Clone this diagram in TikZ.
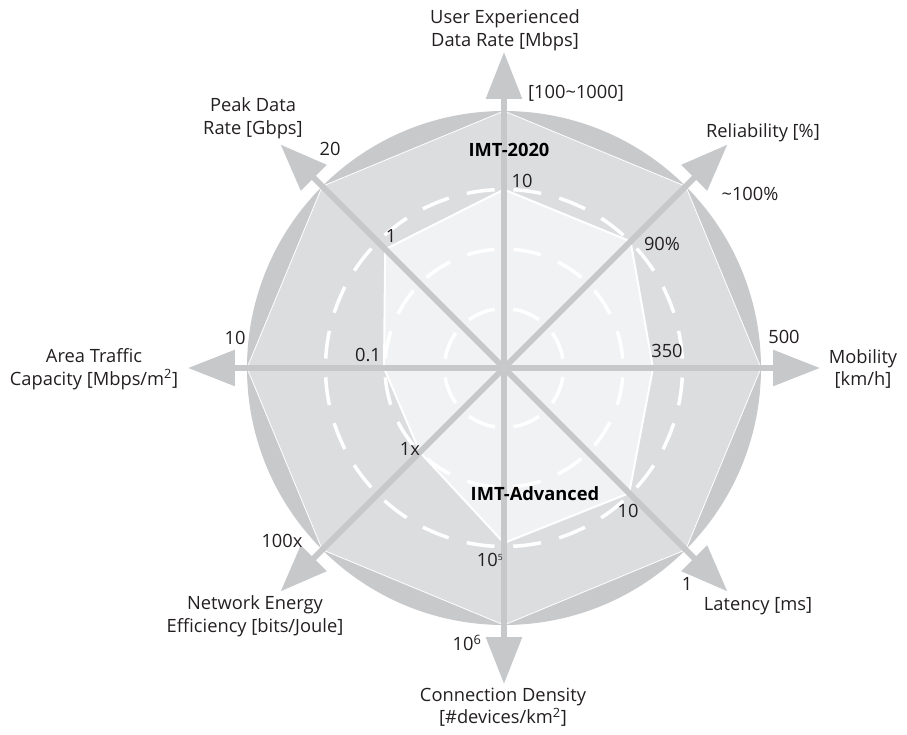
\documentclass[tikz,border=0pt]{standalone}
\usepackage{fontspec}
\setmainfont{Open Sans}
\usetikzlibrary{arrows.meta}
\definecolor{ringgray}{RGB}{200,201,203}
\definecolor{octgray}{RGB}{220,221,223}
\definecolor{innergray}{RGB}{241,242,243}
\definecolor{axisgray}{RGB}{199,200,202}
\definecolor{textgray}{RGB}{35,31,32}

\begin{document}
\begin{tikzpicture}[x=1pt,y=1pt,
  axisarrow/.style={line width=6pt,draw=axisgray,-{Triangle[length=47pt,width=35pt]}},
  lbl/.style={text=textgray,font=\fontsize{18.3}{22.5}\selectfont,align=center,inner sep=0pt},
  tag/.style={lbl,font=\bfseries\fontsize{18.3}{22.5}\selectfont,text=black},
  ring/.style={draw=white,line width=3.5pt,dash pattern=on 28pt off 18.73pt,dash phase=37.36pt}]
  \useasboundingbox (-504,-366) rectangle (403,368);
  \coordinate (o) at (0,0);
  % outer disc, IMT-2020 and IMT-Advanced areas
  \fill[ringgray] (o) circle (257);
  \filldraw[fill=octgray,draw=white,line width=0.8pt] (0:257) -- (45:257) -- (90:257) -- (135:257)
     -- (180:257) -- (225:257) -- (270:257) -- (315:257) -- cycle;
  \filldraw[fill=innergray,draw=white,line width=2pt] (90:178.5) -- (45:179) -- (0:149) -- (-45:177)
     -- (-90:175) -- (-135:119) -- (180:120) -- (135:168) -- cycle;
  \foreach \r in {59.5,119,178.5}
     \draw[ring] (o) circle (\r);
  % axes
  \foreach \a [count=\i] in {90,45,0,-45,-90,-135,180,135}{
     \coordinate (t\i) at (\a:316);
     \draw[axisarrow] (o) -- (t\i);
  }
  % axis names
  \node[lbl] (ued) at (1,338) {User Experienced\\Data Rate [Mbps]};
  \node[lbl] (rel) at (259,235) {Reliability [\%]};
  \node[lbl] (mob) at (359,-1) {Mobility\\{}[km/h]};
  \node[lbl] (lat) at (254,-238) {Latency [ms]};
  \node[lbl] (den) at (-1,-339) {Connection Density\\{}[\#devices/km\textsuperscript{2}]};
  \node[lbl] (nee) at (-249,-248) {Network Energy\\Efficiency [bits/Joule]};
  \node[lbl] (atc) at (-410,-1) {Area Traffic\\Capacity [Mbps/m\textsuperscript{2}]};
  \node[lbl] (pdr) at (-251,250) {Peak Data\\Rate [Gbps]};
  % IMT-2020 values
  \node[lbl] (v1) at (72,275) {[100\textasciitilde1000]};
  \node[lbl] (v2) at (246,174) {\textasciitilde100\%};
  \node[lbl] (v3) at (280,31) {500};
  \node[lbl] (v4) at (183,-216) {1};
  \node[lbl] (v5) at (-37,-275) {10\textsuperscript{6}};
  \node[lbl] (v6) at (-222,-173) {100x};
  \node[lbl] (v7) at (-269,30) {10};
  \node[lbl] (v8) at (-174,219) {20};
  % IMT-Advanced values
  \node[lbl] (u1) at (18,187) {10};
  \node[lbl] (u2) at (158,124) {90\%};
  \node[lbl] (u3) at (163,17) {350};
  \node[lbl] (u4) at (124,-143) {10};
  \node[lbl] (u5) at (-14,-192) {10\textsuperscript{\fontsize{8.5}{8.5}\selectfont 5}};
  \node[lbl] (u6) at (-94,-81) {1x};
  \node[lbl] (u7) at (-136,13) {0.1};
  \node[lbl] (u8) at (-113,132) {1};
  % system names
  \node[tag] (imt20) at (5,218) {IMT-2020};
  \node[tag] (imtadv) at (31,-126) {IMT-Advanced};
\end{tikzpicture}
\end{document}
